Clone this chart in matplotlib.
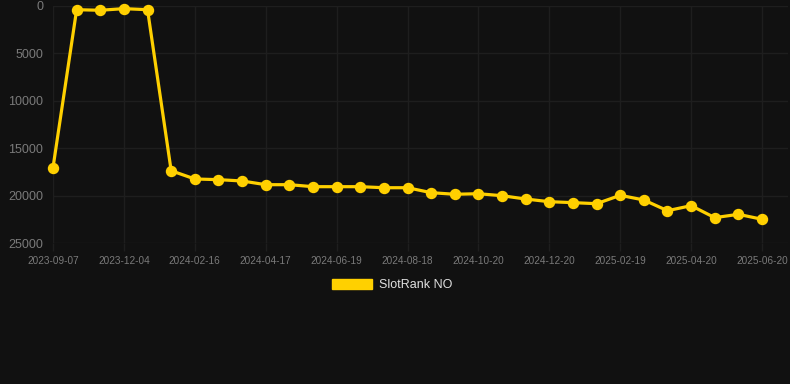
import numpy as np
import matplotlib
matplotlib.use("Agg")
import matplotlib.pyplot as plt

# data (rank, lower is better)
ranks = [17040, 410, 470, 300, 410, 17360, 18230, 18300, 18440, 18830,
         18830, 19040, 19040, 19040, 19150, 19150, 19670, 19840, 19780, 19990,
         20340, 20620, 20720, 20830, 19950, 20440, 21570, 21040, 22300, 21950,
         22470]
tick_labels = ["2023-09-07", "2023-12-04", "2024-02-16", "2024-04-17",
               "2024-06-19", "2024-08-18", "2024-10-20", "2024-12-20",
               "2025-02-19", "2025-04-20", "2025-06-20"]
y_ticks = [0, 5000, 10000, 15000, 20000, 25000]
series_name = "SlotRank NO"

BG = "#111111"
GRID = "#1e1e1e"
TXT = "#7a7a7a"
GOLD = "#FFD000"

plt.rcParams['font.family'] = ['Liberation Sans', 'DejaVu Sans']

fig = plt.figure(figsize=(7.9, 3.84), dpi=100, facecolor=BG)
ax = fig.add_axes([53 / 790, 1 - 243.3 / 384, 735 / 790, (243.3 - 5.8) / 384])
ax.set_facecolor(BG)

x = np.arange(len(ranks))
ax.plot(x, ranks, color=GOLD, lw=2.3, marker='o', ms=7.2, zorder=3,
        label=series_name, clip_on=False)

ax.set_ylim(25000, 0)
ax.set_xlim(0, 31.1)
ax.set_yticks(y_ticks)
ax.set_yticklabels([str(v) for v in y_ticks])
ax.set_xticks(x[::3])
ax.set_xticklabels(tick_labels)

ax.grid(True, color=GRID, lw=1)
for s in ax.spines.values():
    s.set_visible(False)
ax.tick_params(axis='y', length=0, pad=7, labelsize=9, colors=TXT)
ax.tick_params(axis='x', length=6, width=1, color=GRID, pad=3,
               labelsize=7.2, labelcolor=TXT)

leg_ax = fig.add_axes([0, 0, 1, 1], facecolor='none')
leg_ax.axis('off')
handle = plt.Rectangle((0, 0), 1, 1, color=GOLD)
leg = leg_ax.legend([handle], [series_name], loc='center',
                    bbox_to_anchor=(392 / 790, 1 - 285 / 384),
                    frameon=False, fontsize=9, handlelength=3.2,
                    handleheight=0.9, handletextpad=0.55)
for t in leg.get_texts():
    t.set_color("#e0e0e0")

fig.savefig("out.png", dpi=100, facecolor=BG)
